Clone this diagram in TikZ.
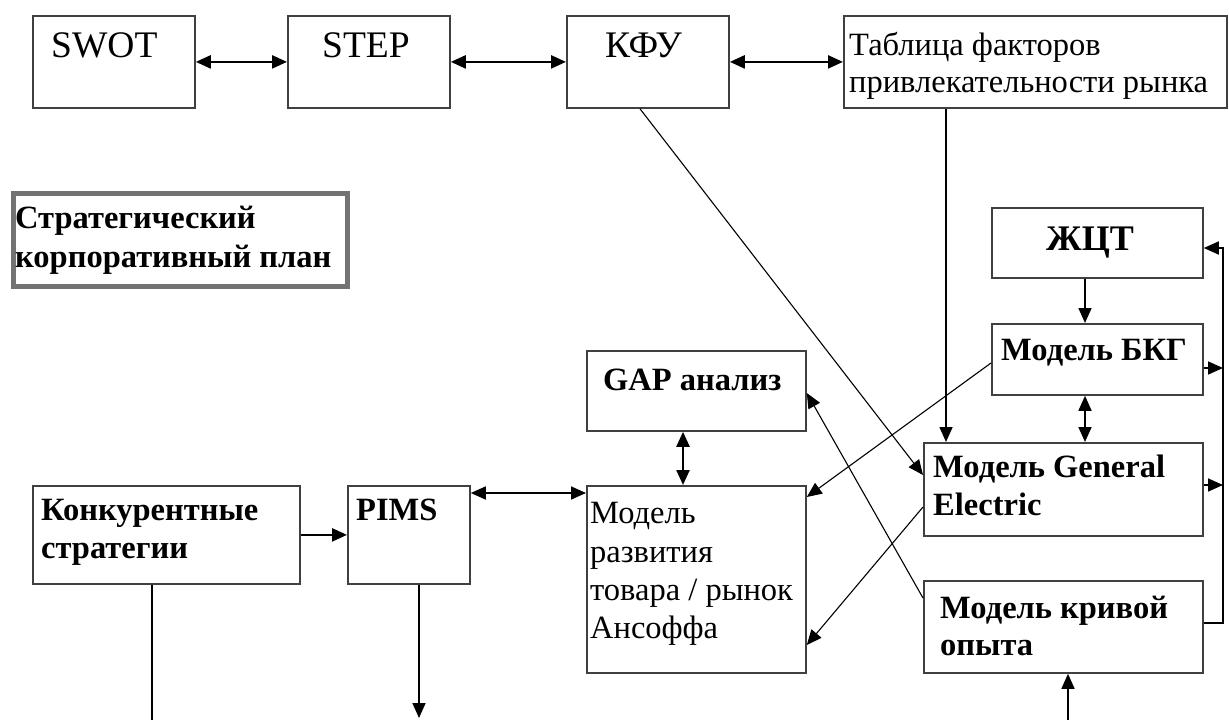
\documentclass[tikz,border=0pt]{standalone}
\usepackage{fontspec}
\setmainfont{Liberation Serif}
\usetikzlibrary{arrows.meta,calc}
\tikzset{
  box/.style={draw=black!75, line width=1.8pt, fill=white, rectangle, inner sep=0pt, anchor=north west},
  lbl/.style={anchor=base west, inner sep=0pt},
  big/.style={font=\fontsize{37.5}{40}\selectfont},
  reg/.style={font=\fontsize{32.5}{37}\selectfont},
  bld/.style={font=\fontsize{32.5}{37}\selectfont\bfseries},
  tip/.style={-{Triangle[length=15pt,width=13pt]}},
  dtip/.style={{Triangle[length=15pt,width=13pt]}-{Triangle[length=15pt,width=13pt]}},
  thk/.style={line width=2.4pt},
  thn/.style={line width=1.1pt},
  mid/.style={line width=1.7pt},
}
\begin{document}
\begin{tikzpicture}[x=1pt,y=-1pt]
\useasboundingbox (0,0) rectangle (1229,720);
% boxes
\node[box, minimum width=162pt, minimum height=92pt] (swot) at (32,15) {};
\node[box, minimum width=162pt, minimum height=92pt] (step) at (287,15) {};
\node[box, minimum width=162pt, minimum height=92pt] (kfu) at (566,15) {};
\node[box, minimum width=383pt, minimum height=92pt] (table) at (843,15) {};
\node[box, draw=black!55, line width=5pt, minimum width=334pt, minimum height=93pt] (plan) at (10.5,190.5) {};
\node[box, minimum width=211pt, minimum height=70pt] (gct) at (991,207) {};
\node[box, minimum width=211pt, minimum height=71pt] (bkg) at (991,323) {};
\node[box, minimum width=219pt, minimum height=80pt] (gap) at (586,350) {};
\node[box, minimum width=279pt, minimum height=93pt] (ge) at (923,442) {};
\node[box, minimum width=267pt, minimum height=98pt] (konk) at (32,485) {};
\node[box, minimum width=122pt, minimum height=98pt] (pims) at (347,485) {};
\node[box, minimum width=219pt, minimum height=187pt] (ans) at (586,485) {};
\node[box, minimum width=279pt, minimum height=92pt] (kriv) at (923,580) {};
% texts
\node[lbl, big] (tswot) at (51,57) {SWOT};
\node[lbl, big] (tstep) at (322,57) {STEP};
\node[lbl, big] (tkfu) at (605,57) {КФУ};
\node[lbl, reg] (ttab1) at (849,55) {Таблица факторов};
\node[lbl, reg] (ttab2) at (849,92) {привлекательности рынка};
\node[lbl, bld] (tplan1) at (15,228) {Стратегический};
\node[lbl, bld] (tplan2) at (15,267) {корпоративный план};
\node[lbl, bld, font=\fontsize{36}{40}\selectfont\bfseries] (tgct) at (1046,250) {ЖЦТ};
\node[lbl, bld] (tbkg) at (1001,360) {Модель БКГ};
\node[lbl, bld] (tgap) at (603,390) {GAP анализ};
\node[lbl, bld] (tge1) at (933,477) {Модель General};
\node[lbl, bld] (tge2) at (933,515) {Electric};
\node[lbl, bld] (tkonk1) at (41,520) {Конкурентные};
\node[lbl, bld] (tkonk2) at (41,558) {стратегии};
\node[lbl, bld] (tpims) at (356,520) {PIMS};
\node[lbl, bld] (tkriv1) at (940,618) {Модель кривой};
\node[lbl, bld] (tkriv2) at (940,655) {опыта};
\node[lbl, reg] (tans1) at (590,523) {Модель};
\node[lbl, reg] (tans2) at (590,562) {развития};
\node[lbl, reg] (tans3) at (590,600) {товара / рынок};
\node[lbl, reg] (tans4) at (590,638) {Ансоффа};
% free ends and rail
\coordinate (konkend) at (152,720);
\coordinate (pimsend) at (419,718);
\coordinate (krivstart) at (1068,720);
\coordinate (railtop) at (1223,248);
\coordinate (railbot) at (1223,623);
\coordinate (bkgout) at ($(bkg.north east)+(0,45)$);
\coordinate (geout) at ($(ge.north east)+(0,43)$);
\coordinate (krivout) at ($(kriv.north east)+(0,43)$);
% top row
\draw[thk, dtip] (swot.east) -- (step.west);
\draw[thk, dtip] (step.east) -- (kfu.west);
\draw[thk, dtip] (kfu.east) -- (table.west);
% table -> GE
\coordinate (t1) at ($(table.south west)+(103,0)$);
\draw[mid, tip] (t1) -- (t1 |- ge.north);
% diagonals
\draw[thn, tip] ($(kfu.south west)+(74,0)$) -- ($(ge.north west)+(0,33)$);
\draw[thn, tip] ($(bkg.north west)+(0,40)$) -- ($(ans.north east)+(0,12)$);
\draw[thn, tip] ($(ge.north west)+(0,65)$) -- ($(ans.north east)+(0,160)$);
\draw[thn, tip] ($(kriv.north west)+(0,18)$) -- ($(gap.north east)+(0,43)$);
% GAP <-> Ansoff
\draw[thk, dtip] ($(gap.south west)+(97,0)$) -- ($(ans.north west)+(97,0)$);
% PIMS <-> Ansoff
\draw[mid, dtip] ($(pims.north east)+(0,8)$) -- ($(ans.north west)+(0,8)$);
% konk -> PIMS
\draw[thk, tip] (konk.east) -- (pims.west);
% downs
\draw[mid] ($(konk.south west)+(120,0)$) -- (konkend);
\draw[mid, tip] ($(pims.south west)+(72,0)$) -- (pimsend);
\draw[mid, tip] (krivstart) -- (krivstart |- kriv.south);
% right column
\draw[mid, tip] ($(gct.south west)+(94,0)$) -- ($(bkg.north west)+(94,0)$);
\draw[mid, dtip] ($(bkg.south west)+(94,0)$) -- ($(ge.north west)+(162,0)$);
\draw[mid, tip] (krivout) -- (railbot) -- (railtop) -- (railtop -| gct.east);
\draw[mid, tip] (bkgout) -- (bkgout -| railtop);
\draw[mid, tip] (geout) -- (geout -| railtop);
\end{tikzpicture}
\end{document}
